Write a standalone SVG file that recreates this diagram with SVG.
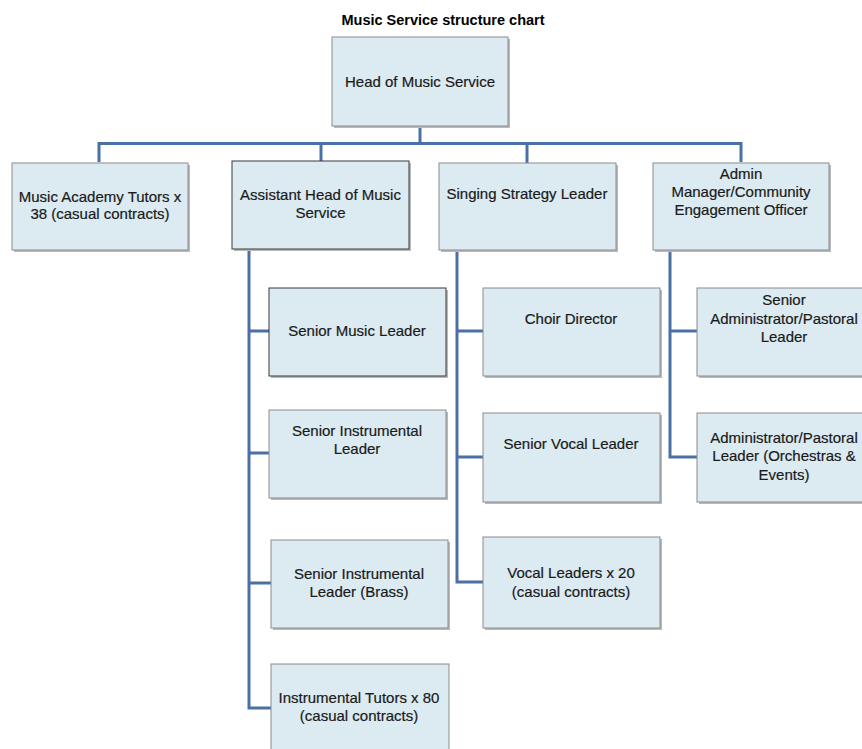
<svg xmlns="http://www.w3.org/2000/svg" width="862" height="749" viewBox="0 0 862 749">
<defs>
<style>
.box{fill:#dbebf1;stroke:#8c8c8c;stroke-width:1}
.dark{stroke:#3a3a3a}
.sh{fill:#b9b9b9}
.t{font-family:"Liberation Sans",Arial,sans-serif;font-size:15px;fill:#1a1a1a;stroke:#1a1a1a;stroke-width:0.2;text-anchor:middle}
.title{font-family:"Liberation Sans",Arial,sans-serif;font-size:14.5px;font-weight:bold;fill:#000;text-anchor:middle}
.c{fill:none;stroke:#4a70a6;stroke-width:3;stroke-linejoin:miter}
</style>
</defs>
<rect width="862" height="749" fill="#ffffff"/>
<text class="title" x="443" y="25">Music Service structure chart</text>

<g id="connectors">
<path class="c" d="M420,126 V143.5"/>
<path class="c" d="M99,162 V143.5 H741 V162"/>
<path class="c" d="M321,143.5 V161"/>
<path class="c" d="M527,143.5 V163"/>
<path class="c" d="M249,250 V708 H271"/>
<path class="c" d="M249,331 H269 M249,453 H269 M249,583 H271"/>
<path class="c" d="M457,250 V582 H483"/>
<path class="c" d="M457,331 H483 M457,457 H483"/>
<path class="c" d="M670,250 V457 H697"/>
<path class="c" d="M670,331 H697"/>
</g>

<g id="head">
<rect class="sh" x="334" y="39" width="176" height="89"/>
<rect class="box" x="332" y="37" width="176" height="89"/>
<text class="t" x="420" y="87">Head of Music Service</text>
</g>

<g id="academy">
<rect class="sh" x="14" y="165" width="176" height="87"/>
<rect class="box" x="12" y="163" width="176" height="87"/>
<text class="t" x="100" y="202">Music Academy Tutors x</text>
<text class="t" x="100" y="219">38 (casual contracts)</text>
</g>

<g id="assistant">
<rect class="sh" x="234" y="163" width="177" height="88"/>
<rect class="box dark" x="232" y="161" width="177" height="88"/>
<text class="t" x="320.5" y="200">Assistant Head of Music</text>
<text class="t" x="320.5" y="218">Service</text>
</g>

<g id="singing">
<rect class="sh" x="441" y="165" width="177" height="87"/>
<rect class="box" x="439" y="163" width="177" height="87"/>
<text class="t" x="527" y="199">Singing Strategy Leader</text>
</g>

<g id="admin">
<rect class="sh" x="655" y="165" width="176" height="87"/>
<rect class="box" x="653" y="163" width="176" height="87"/>
<text class="t" x="741" y="179">Admin</text>
<text class="t" x="741" y="197">Manager/Community</text>
<text class="t" x="741" y="215">Engagement Officer</text>
</g>

<g id="senior-music">
<rect class="sh" x="271" y="290" width="177" height="88"/>
<rect class="box dark" x="269" y="288" width="177" height="88"/>
<text class="t" x="357" y="336">Senior Music Leader</text>
</g>

<g id="senior-instrumental">
<rect class="sh" x="271" y="412" width="177" height="88"/>
<rect class="box" x="269" y="410" width="177" height="88"/>
<text class="t" x="357" y="436">Senior Instrumental</text>
<text class="t" x="357" y="454">Leader</text>
</g>

<g id="senior-brass">
<rect class="sh" x="273" y="542" width="177" height="88"/>
<rect class="box" x="271" y="540" width="177" height="88"/>
<text class="t" x="359" y="579">Senior Instrumental</text>
<text class="t" x="359" y="597">Leader (Brass)</text>
</g>

<g id="instrumental-tutors">
<rect class="box" x="271" y="664" width="178" height="100"/>
<text class="t" x="359" y="703">Instrumental Tutors x 80</text>
<text class="t" x="359" y="721">(casual contracts)</text>
</g>

<g id="choir">
<rect class="sh" x="485" y="290" width="177" height="88"/>
<rect class="box" x="483" y="288" width="177" height="88"/>
<text class="t" x="571" y="324">Choir Director</text>
</g>

<g id="senior-vocal">
<rect class="sh" x="485" y="415" width="177" height="89"/>
<rect class="box" x="483" y="413" width="177" height="89"/>
<text class="t" x="571" y="449">Senior Vocal Leader</text>
</g>

<g id="vocal-leaders">
<rect class="sh" x="485" y="539" width="177" height="91"/>
<rect class="box" x="483" y="537" width="177" height="91"/>
<text class="t" x="571" y="578">Vocal Leaders x 20</text>
<text class="t" x="571" y="597">(casual contracts)</text>
</g>

<g id="senior-admin">
<rect class="sh" x="699" y="290" width="176" height="88"/>
<rect class="box" x="697" y="288" width="176" height="88"/>
<text class="t" x="784" y="305">Senior</text>
<text class="t" x="784" y="324">Administrator/Pastoral</text>
<text class="t" x="784" y="342">Leader</text>
</g>

<g id="admin-pastoral">
<rect class="sh" x="699" y="415" width="176" height="89"/>
<rect class="box" x="697" y="413" width="176" height="89"/>
<text class="t" x="784" y="443">Administrator/Pastoral</text>
<text class="t" x="784" y="461">Leader (Orchestras &amp;</text>
<text class="t" x="784" y="480">Events)</text>
</g>
</svg>
